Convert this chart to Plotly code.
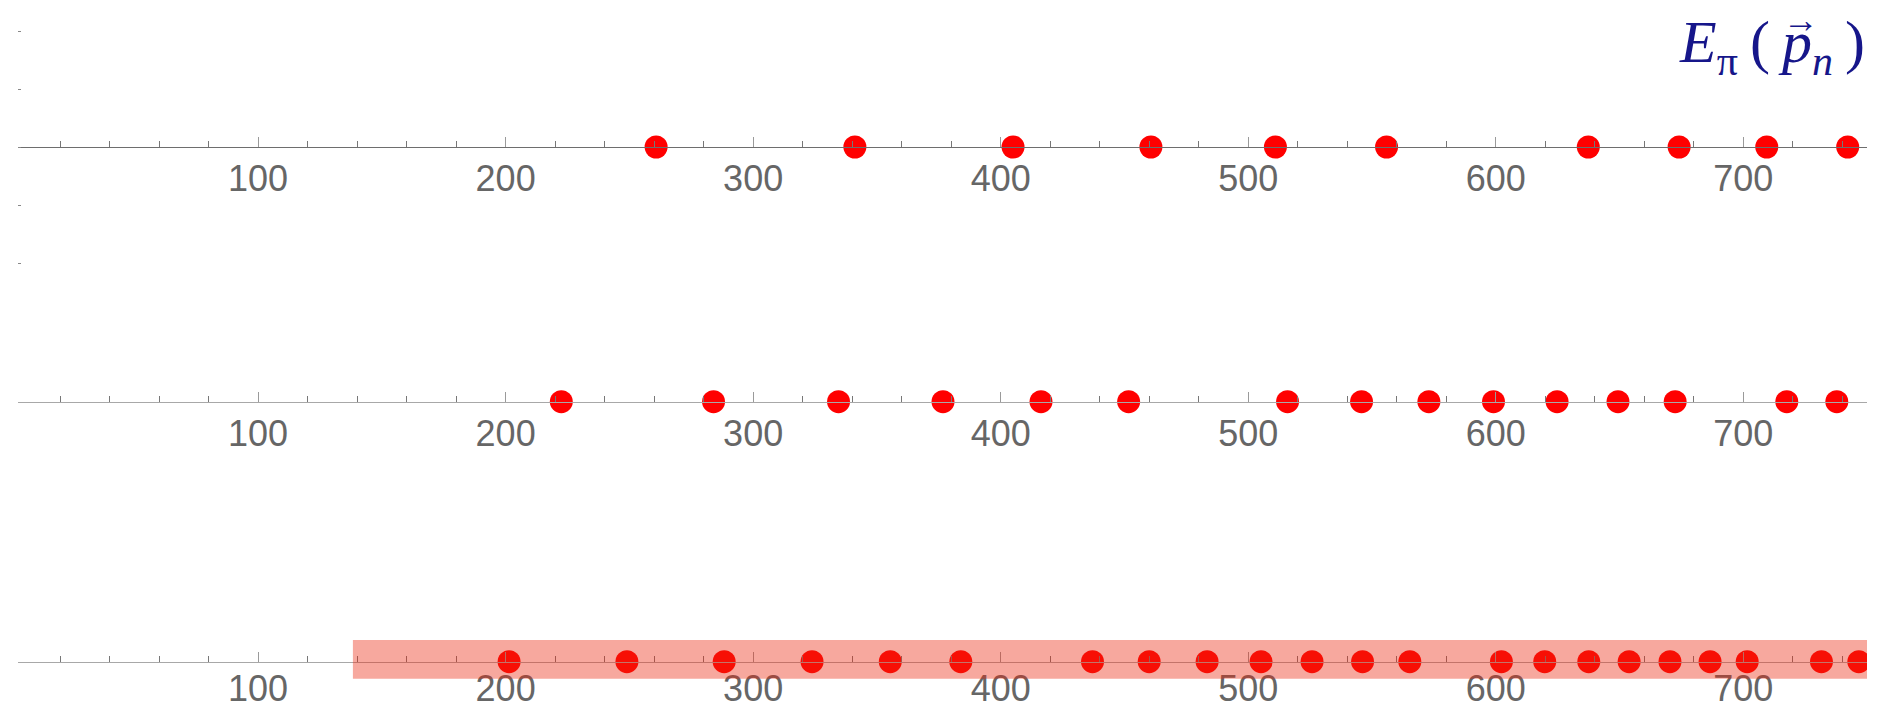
import plotly.graph_objects as go

# Pion energy levels E_pi(p_n) for three configurations (MeV)
row1_energies = [260.8, 341.1, 405.0, 460.7, 511.0, 555.9, 637.4, 674.1, 709.5, 742.2]
row2_energies = [222.5, 284.0, 334.5, 376.7, 416.3, 451.7, 515.9, 545.8, 573.0,
                 599.1, 624.8, 649.4, 672.5, 717.6, 737.8]
row3_energies = [201.4, 249.0, 288.3, 323.8, 355.4, 383.9, 437.1, 460.0, 483.4,
                 505.2, 525.8, 546.2, 565.3, 602.3, 619.8, 637.6, 653.9, 670.4,
                 686.6, 701.6, 731.6, 746.7]
# highlighted energy window on the third line
window = [138.3, 753.0]
x_range = [3, 750]

W, H = 1888, 710
ML, MR = 18, 21
TICK_FONT = dict(family="Liberation Sans, Arial, sans-serif", size=36, color="#666666")
NAVY = "#16168a"
SERIF = "Liberation Serif, DejaVu Serif, serif"


def py_to_paper(py):
    return 1 - py / H


def px_to_paper(px):
    return (px - ML) / (W - ML - MR)


def number_line(pos, linecolor, standoff):
    return dict(
        domain=[0, 1], range=x_range, anchor="free", position=pos,
        showline=True, linecolor=linecolor, linewidth=1,
        ticks="inside", ticklen=10, tickwidth=1, tickcolor="#9a9a9a",
        tick0=0, dtick=100, tickfont=TICK_FONT, ticklabelstandoff=standoff,
        minor=dict(tick0=0, dtick=20, ticks="inside", ticklen=6,
                   tickwidth=1, tickcolor="#777777", showgrid=False),
        showgrid=False, zeroline=False, automargin=False, fixedrange=True,
    )


fig = go.Figure()
for i, vals in enumerate([row1_energies, row2_energies, row3_energies], start=1):
    suffix = "" if i == 1 else str(i)
    fig.add_trace(go.Scatter(
        x=vals, y=[0] * len(vals), mode="markers",
        marker=dict(size=23, color="#ff0000", line=dict(width=0)),
        xaxis="x" + suffix, yaxis="y" + suffix, hoverinfo="skip",
    ))

axis_y = [147, 401.7, 661.7]

fig.update_layout(
    width=W, height=H,
    margin=dict(l=ML, r=MR, t=0, b=0, autoexpand=False),
    paper_bgcolor="white", plot_bgcolor="white", showlegend=False,
    xaxis=number_line(py_to_paper(axis_y[0]), "#6e6e6e", 0),
    xaxis2=number_line(py_to_paper(axis_y[1]), "#a8a8a8", 0),
    xaxis3=number_line(py_to_paper(axis_y[2]), "#a8a8a8", -5),
    yaxis=dict(domain=[py_to_paper(axis_y[0] + 145), py_to_paper(axis_y[0] - 145)],
               range=[-2.5, 2.5], anchor="x", showline=False, ticks="inside",
               ticklen=3, tickwidth=1, tickcolor="#888888", tick0=0, dtick=1,
               showticklabels=False, showgrid=False, zeroline=False, fixedrange=True),
    yaxis2=dict(domain=[py_to_paper(axis_y[1] + 45), py_to_paper(axis_y[1] - 45)],
                range=[-1, 1], anchor="x2", visible=False, fixedrange=True),
    yaxis3=dict(domain=[py_to_paper(axis_y[2] + 45), py_to_paper(axis_y[2] - 45)],
                range=[-1, 1], anchor="x3", visible=False, fixedrange=True),
)

# translucent window over the third number line
fig.add_shape(type="rect", xref="x3", yref="y3",
              x0=window[0], x1=window[1], y0=-0.38, y1=0.48,
              fillcolor="rgba(235,38,13,0.4)", line=dict(width=0), layer="above")

# label E_pi(p_n) with a vector arrow over p
fig.add_annotation(
    text="<i>E</i><sub>π</sub>\u2009(\u2009<i>p</i><sub><i>n</i></sub>\u2009)",
    xref="paper", yref="paper", x=1, y=py_to_paper(46),
    xanchor="right", yanchor="middle", showarrow=False,
    font=dict(family=SERIF, size=60, color=NAVY),
)
fig.add_annotation(
    text="\u2192",
    xref="paper", yref="paper", x=px_to_paper(1801), y=py_to_paper(20),
    xanchor="center", yanchor="middle", showarrow=False,
    font=dict(family=SERIF, size=36, color=NAVY),
)

fig.write_html("out.html")
